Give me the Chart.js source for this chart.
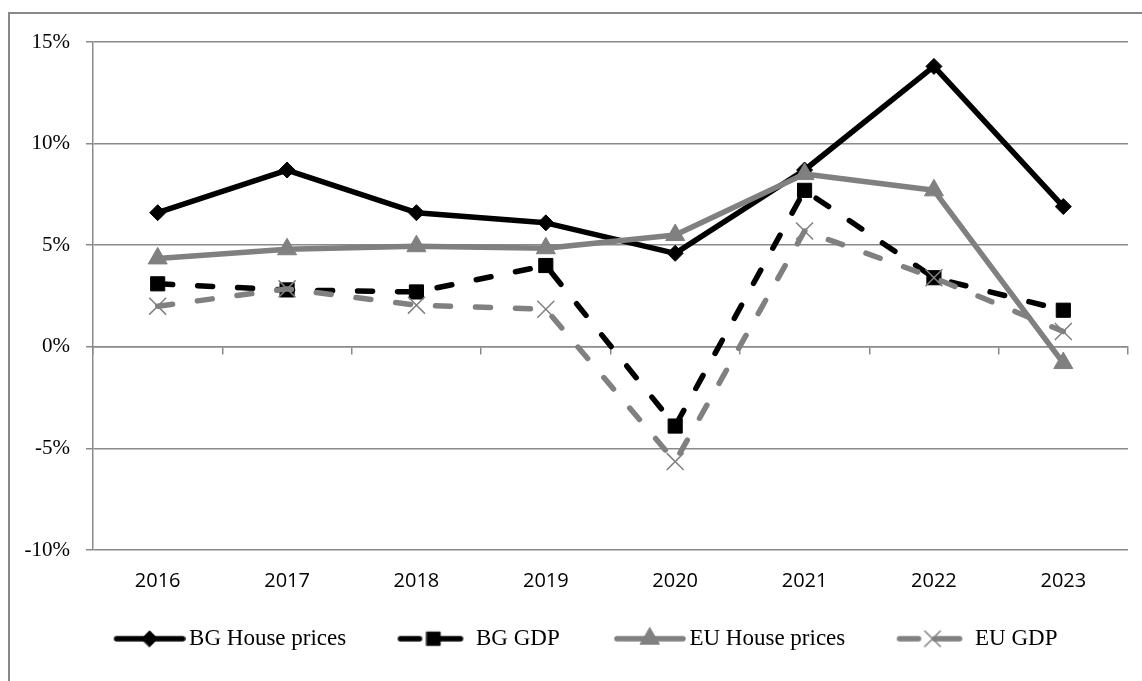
<html>
<head>
  <title>House prices and GDP</title>
  <script src="https://cdn.jsdelivr.net/npm/chart.js@4.4.1/dist/chart.umd.min.js"></script>
  <style>
    html, body {
      margin: 0;
      padding: 0;
      background: #fff;
      overflow: hidden;
    }
    .frame {
      position: absolute;
      left: 8px;
      top: 12px;
      width: 1300px;
      height: 900px;
      border: 2px solid #888;
    }
    #chart {
      position: absolute;
      left: 0;
      top: 0;
    }
  </style>
</head>
<body>
  <div class="frame"></div>
  <canvas id="chart" width="1142" height="681"></canvas>

  <script>
    // values, in %
    var years = ['2016', '2017', '2018', '2019', '2020', '2021', '2022', '2023'];
    var bgHouse = [6.6, 8.7, 6.6, 6.1, 4.6, 8.7, 13.8, 6.9];
    var bgGdp = [3.1, 2.8, 2.7, 4.0, -3.9, 7.7, 3.4, 1.8];
    var euHouse = [4.35, 4.8, 4.95, 4.85, 5.5, 8.5, 7.7, -0.8];
    var euGdp = [2.0, 2.85, 2.05, 1.85, -5.65, 5.7, 3.4, 0.75];
    var yTicks = [-10, -5, 0, 5, 10, 15];

    var seriesNames = ['BG House prices', 'BG GDP', 'EU House prices', 'EU GDP'];
    var GRAY = '#808080';
    var GRID = '#8a8a8a';
    var KEY_BOX = 87;   // legend box width, the key picture hangs 8px past both sides

    // line + marker pictures for the legend (key drawn at the right end of the box)
    function makeIcon(color, dashed, style, radius, bw) {
      var c = document.createElement('canvas');
      c.width = KEY_BOX + 16;
      c.height = 30;
      var g = c.getContext('2d');
      var y = 15;
      var mx;
      g.strokeStyle = color;
      g.fillStyle = color;
      g.lineWidth = 5.5;
      g.lineCap = 'round';
      g.beginPath();
      if (dashed) {
        g.moveTo(31, y); g.lineTo(50, y);
        g.moveTo(66, y); g.lineTo(91, y);
        mx = 64;
      } else {
        g.moveTo(34, y); g.lineTo(100, y);
        mx = 67;
      }
      g.stroke();
      g.lineWidth = bw;
      Chart.helpers.drawPoint(g, {pointStyle: style, radius: radius, borderWidth: bw, rotation: 0}, mx, y);
      return c;
    }

    var icons = [
      makeIcon('#000', false, 'rectRot', 8, 1),
      makeIcon('#000', true, 'rect', 9.5, 1),
      makeIcon(GRAY, false, 'triangle', 11, 1),
      makeIcon(GRAY, true, 'crossRot', 11, 1.5)
    ];

    var ctx = document.getElementById('chart').getContext('2d');
    var myChart = new Chart(ctx, {
      type: 'line',
      data: {
        labels: years,
        datasets: [{
          label: seriesNames[0],
          data: bgHouse,
          borderColor: '#000',
          backgroundColor: '#000',
          borderWidth: 5.5,
          pointStyle: 'rectRot',
          pointRadius: 8,
          pointBorderWidth: 1,
          order: 4
        }, {
          label: seriesNames[1],
          data: bgGdp,
          borderColor: '#000',
          backgroundColor: '#000',
          borderWidth: 5.5,
          borderDash: [15, 25],
          borderCapStyle: 'round',
          pointStyle: 'rect',
          pointRadius: 10,
          pointBorderWidth: 1,
          order: 3
        }, {
          label: seriesNames[2],
          data: euHouse,
          borderColor: GRAY,
          backgroundColor: GRAY,
          borderWidth: 5.5,
          pointStyle: 'triangle',
          pointRadius: 11,
          pointBorderWidth: 1,
          order: 2
        }, {
          label: seriesNames[3],
          data: euGdp,
          borderColor: GRAY,
          backgroundColor: GRAY,
          borderWidth: 5.5,
          borderDash: [15, 25],
          borderCapStyle: 'round',
          pointStyle: 'crossRot',
          pointRadius: 12,
          pointBorderColor: GRAY,
          pointBorderWidth: 1.5,
          order: 1
        }]
      },
      options: {
        responsive: false,
        animation: false,
        devicePixelRatio: 1,
        layout: {
          padding: {left: 20, right: 14, top: 42, bottom: 20.75}
        },
        elements: {
          line: {tension: 0, borderJoinStyle: 'round'},
          point: {hoverRadius: 8}
        },
        scales: {
          x: {
            type: 'category',
            offset: true,
            grid: {display: false, drawTicks: false},
            border: {display: false},
            ticks: {
              color: '#000',
              padding: 19,
              font: {family: 'Open Sans', size: 20}
            },
            afterFit: function (s) { s.height = 46; }
          },
          x2: {
            type: 'category',
            axis: 'x',
            position: {y: 0},
            offset: true,
            grid: {
              offset: true,
              drawOnChartArea: false,
              drawTicks: true,
              tickLength: 7,
              color: GRID,
              lineWidth: 1.5
            },
            border: {display: true, color: GRID, width: 1.5},
            ticks: {display: false},
            afterFit: function (s) { s.height = 0; }
          },
          y: {
            min: -10,
            max: 15,
            afterBuildTicks: function (s) {
              s.ticks = yTicks.map(function (v) { return {value: v}; });
            },
            grid: {
              color: GRID,
              lineWidth: 1.5,
              drawTicks: true,
              tickLength: 7
            },
            border: {display: true, color: GRID, width: 1.5},
            ticks: {
              color: '#000',
              padding: 16,
              font: {family: 'Liberation Serif', size: 21},
              callback: function (v) { return v + '%'; }
            },
            afterFit: function (s) { s.width = 73; }
          }
        },
        plugins: {
          tooltip: {enabled: false},
          legend: {
            position: 'bottom',
            align: 'center',
            labels: {
              usePointStyle: true,
              pointStyleWidth: KEY_BOX,
              padding: 31.25,
              color: '#000',
              font: {family: 'Liberation Serif', size: 23},
              generateLabels: function (chart) {
                return chart.data.datasets.map(function (ds, i) {
                  return {
                    text: ds.label,
                    pointStyle: icons[i],
                    fillStyle: ds.borderColor,
                    strokeStyle: ds.borderColor,
                    lineWidth: 0,
                    hidden: false,
                    datasetIndex: i,
                    fontColor: '#000'
                  };
                });
              }
            }
          }
        }
      }
    });
  </script>
</body>
</html>
